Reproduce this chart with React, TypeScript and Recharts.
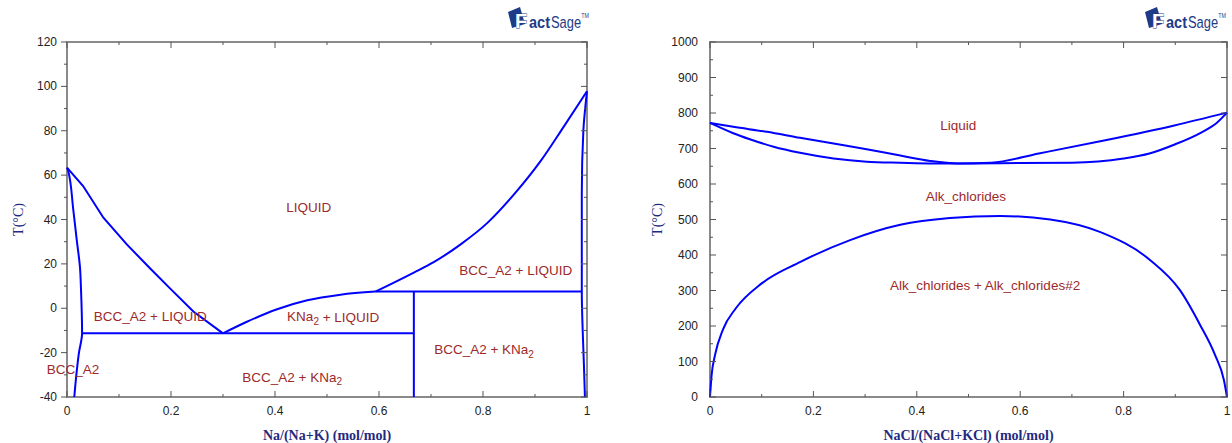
import React from "react";
import { ScatterChart, Scatter, XAxis, YAxis, ReferenceArea } from "recharts";

// ---------- Na-K diagram (left) ----------
const naXTicks = [0, 0.1, 0.2, 0.3, 0.4, 0.5, 0.6, 0.7, 0.8, 0.9, 1];
const naYTicks = [-40, -30, -20, -10, 0, 10, 20, 30, 40, 50, 60, 70, 80, 90, 100, 110, 120];

const liquidusK = [
  { x: 0, y: 63.4 }, { x: 0.031, y: 55.1 }, { x: 0.07, y: 40.8 }, { x: 0.115, y: 28.8 },
  { x: 0.16, y: 17.9 }, { x: 0.2, y: 8.5 }, { x: 0.243, y: -1.5 }, { x: 0.3, y: -11.3 },
];
const bccK = [
  { x: 0, y: 63.4 }, { x: 0.0025, y: 61.8 }, { x: 0.012, y: 44.6 }, { x: 0.0186, y: 31 },
  { x: 0.025, y: 18.3 }, { x: 0.027, y: 8 }, { x: 0.029, y: -11.3 }, { x: 0.023, y: -20 },
  { x: 0.018, y: -30 }, { x: 0.014, y: -40 },
];
const eutectic = [{ x: 0.029, y: -11.3 }, { x: 0.667, y: -11.3 }];
const kna2Line = [{ x: 0.667, y: 7.5 }, { x: 0.667, y: -40 }];
const peritectic = [{ x: 0.593, y: 7.5 }, { x: 0.99, y: 7.5 }];
const kna2Liquidus = [
  { x: 0.3, y: -11.3 }, { x: 0.346, y: -6.1 }, { x: 0.404, y: -0.45 }, { x: 0.462, y: 3.6 },
  { x: 0.526, y: 6.1 }, { x: 0.593, y: 7.5 },
];
const naLiquidus = [
  { x: 0.593, y: 7.5 }, { x: 0.667, y: 16.1 }, { x: 0.706, y: 20.9 }, { x: 0.757, y: 28.8 },
  { x: 0.809, y: 38.6 }, { x: 0.86, y: 51.4 }, { x: 0.911, y: 66.4 }, { x: 0.956, y: 82.1 },
  { x: 1, y: 97.8 },
];
const bccNa = [
  { x: 1, y: 97.8 }, { x: 0.993, y: 80 }, { x: 0.99, y: 52 }, { x: 0.99, y: 7.5 },
  { x: 0.9917, y: -10 }, { x: 0.994, y: -25 }, { x: 0.996, y: -40 },
];
const naLabels = [
  { x: 0.465, y: 45.6, text: "LIQUID" },
  { x: 0.16, y: -3.9, text: "BCC_A2 + LIQUID" },
  { x: 0.512, y: -3.9, text: "KNa", sub: "2", tail: " + LIQUID" },
  { x: 0.863, y: 16.8, text: "BCC_A2 + LIQUID" },
  { x: 0.802, y: -18.8, text: "BCC_A2 + KNa", sub: "2" },
  { x: 0.433, y: -31, text: "BCC_A2 + KNa", sub: "2" },
  { x: 0.0115, y: -27.8, text: "BCC_A2" },
];

// ---------- NaCl-KCl diagram (right) ----------
const clXTicks = [0, 0.1, 0.2, 0.3, 0.4, 0.5, 0.6, 0.7, 0.8, 0.9, 1];
const clYTicks = [0, 50, 100, 150, 200, 250, 300, 350, 400, 450, 500, 550, 600, 650, 700, 750, 800, 850, 900, 950, 1000];

const clLiquidus = [
  { x: 0, y: 772 }, { x: 0.045, y: 761 }, { x: 0.11, y: 747 }, { x: 0.174, y: 730 },
  { x: 0.239, y: 714 }, { x: 0.303, y: 698 }, { x: 0.368, y: 680 }, { x: 0.426, y: 665 },
  { x: 0.48, y: 658 }, { x: 0.544, y: 660 }, { x: 0.636, y: 686 }, { x: 0.767, y: 724 },
  { x: 0.898, y: 765 }, { x: 1, y: 801 },
];
const clSolidus = [
  { x: 0, y: 772 }, { x: 0.045, y: 743 }, { x: 0.077, y: 726 }, { x: 0.123, y: 705 },
  { x: 0.174, y: 688 }, { x: 0.239, y: 672 }, { x: 0.303, y: 663 }, { x: 0.368, y: 660 },
  { x: 0.432, y: 658 }, { x: 0.503, y: 658 }, { x: 0.6, y: 659 }, { x: 0.7, y: 660 },
  { x: 0.8, y: 672 }, { x: 0.85, y: 686 }, { x: 0.9, y: 712 }, { x: 0.95, y: 745 },
  { x: 0.98, y: 772 }, { x: 1, y: 801 },
];
const clGap = [
  { x: 0, y: 0 }, { x: 0.003, y: 60 }, { x: 0.01, y: 120 }, { x: 0.025, y: 190 },
  { x: 0.05, y: 250 }, { x: 0.1, y: 320 }, { x: 0.174, y: 380 }, { x: 0.271, y: 442 },
  { x: 0.368, y: 485 }, { x: 0.464, y: 504 }, { x: 0.561, y: 510 }, { x: 0.658, y: 500 },
  { x: 0.754, y: 465 }, { x: 0.851, y: 386 }, { x: 0.909, y: 301 }, { x: 0.948, y: 203 },
  { x: 0.977, y: 118 }, { x: 0.994, y: 48 }, { x: 1, y: 0 },
];
const clLabels = [
  { x: 0.48, y: 766, text: "Liquid" },
  { x: 0.495, y: 566, text: "Alk_chlorides" },
  { x: 0.532, y: 315, text: "Alk_chlorides + Alk_chlorides#2" },
];

const BLUE = "#0000ff";
const FRAME = "#8a8a8a";
const LABEL_RED = "#9c2a2a";
const NAVY = "#1f2a80";
const LOGO = "#1d3b86";
const SANS = "'Liberation Sans', Arial, sans-serif";
const SERIF = "'Liberation Serif', 'Times New Roman', serif";

const PLOT_H = 355;

function fmtX(v: number) {
  if (v === 0) return "0";
  if (v === 1) return "1";
  return v.toFixed(1);
}

function XTick(props: any) {
  const { x, y, payload } = props;
  const v = payload.value;
  const major = Math.round(v * 10) % 2 === 0;
  const len = major ? 6 : 3;
  return (
    <g>
      <line x1={x} y1={y} x2={x} y2={y - len} stroke="#555" />
      <line x1={x} y1={y - PLOT_H} x2={x} y2={y - PLOT_H + len} stroke="#555" />
      {major && (
        <text x={x} y={y + 14} textAnchor="middle" dominantBaseline="central" fontFamily={SANS} fontSize={12} fill="#222">
          {fmtX(v)}
        </text>
      )}
    </g>
  );
}

function YTick(props: any) {
  const { x, y, payload, plotW, step, outward, gap, rightMinor } = props;
  const v = payload.value;
  const major = v % step === 0;
  const len = major ? 6 : 3;
  const dir = outward ? -1 : 1;
  return (
    <g>
      <line x1={x} y1={y} x2={x + dir * len} y2={y} stroke="#555" />
      {(major || rightMinor) && <line x1={x + plotW} y1={y} x2={x + plotW - len} y2={y} stroke="#555" />}
      {major && (
        <text x={x - gap} y={y} textAnchor="end" dominantBaseline="central" fontFamily={SANS} fontSize={12} fill="#222">
          {v}
        </text>
      )}
    </g>
  );
}

function YTitle(props: any) {
  const vb = props.viewBox || {};
  const cy = (vb.y ?? 42) + (vb.height ?? PLOT_H) / 2;
  const cx = props.cx;
  return (
    <text x={cx} y={cy} transform={`rotate(-90 ${cx} ${cy})`} textAnchor="middle" dominantBaseline="central" fontFamily={SERIF} fontSize={14} fill={NAVY}>
      T(°C)
    </text>
  );
}

function PhaseLabel(props: any) {
  const { cx, cy, payload } = props;
  return (
    <text x={cx} y={cy} textAnchor="middle" dominantBaseline="central" fontFamily={SANS} fontSize={13.5} fill={LABEL_RED}>
      {payload.text}
      {payload.sub && <tspan dy={4} fontSize={10}>{payload.sub}</tspan>}
      {payload.tail && <tspan dy={-4}>{payload.tail}</tspan>}
    </text>
  );
}

const noDot = () => <g />;

function FactSageLogo({ left }: { left: number }) {
  return (
    <svg style={{ position: "absolute", left, top: 0 }} width={92} height={36}>
      <polygon points="5,12 17,7 22,24 9,28" fill={LOGO} />
      <text x={12} y={28} fontFamily={SANS} fontWeight="bold" fontSize={20} fill="#fff" stroke={LOGO} strokeWidth={0.8} paintOrder="stroke">
        F
      </text>
      <text x={26} y={28} fontFamily={SANS} fontWeight="bold" fontSize={16} fill={LOGO} textLength={21} lengthAdjust="spacingAndGlyphs">
        act
      </text>
      <text transform="translate(48,28) scale(0.76,1)" fontFamily={SANS} fontSize={17} fill={LOGO}>
        Sage
        <tspan dy={-10} fontSize={7}>TM</tspan>
      </text>
    </svg>
  );
}

type Curve = { data: { x: number; y: number }[]; kind: "linear" | "monotoneX" | "monotoneY" };

function NaKChart() {
  const series: Curve[] = [
    { data: liquidusK, kind: "linear" },
    { data: bccK, kind: "monotoneY" },
    { data: eutectic, kind: "linear" },
    { data: kna2Line, kind: "linear" },
    { data: peritectic, kind: "linear" },
    { data: kna2Liquidus, kind: "monotoneX" },
    { data: naLiquidus, kind: "monotoneX" },
    { data: bccNa, kind: "monotoneY" },
  ];
  return (
    <ScatterChart width={620} height={443} margin={{ top: 42, right: 33, bottom: 0, left: 0 }}>
      <XAxis
        type="number"
        dataKey="x"
        domain={[0, 1]}
        ticks={naXTicks}
        interval={0}
        height={46}
        axisLine={false}
        tickLine={false}
        tickSize={0}
        tickMargin={0}
        tick={<XTick />}
        label={{ value: "Na/(Na+K) (mol/mol)", position: "insideBottom", offset: 3, fill: NAVY, fontFamily: SERIF, fontWeight: "bold", fontSize: 14 }}
      />
      <YAxis
        type="number"
        dataKey="y"
        domain={[-40, 120]}
        ticks={naYTicks}
        interval={0}
        width={67}
        axisLine={false}
        tickLine={false}
        tickSize={0}
        tickMargin={0}
        tick={<YTick plotW={520} step={20} outward gap={10} rightMinor />}
        label={<YTitle cx={18} />}
      />
      <ReferenceArea x1={0} x2={1} y1={-40} y2={120} fill="none" stroke={FRAME} strokeWidth={2} />
      {series.map((s, i) => (
        <Scatter key={i} data={s.data} line={{ stroke: BLUE, strokeWidth: 2 }} lineJointType={s.kind} shape={noDot} isAnimationActive={false} />
      ))}
      <Scatter data={naLabels} shape={(p: any) => <PhaseLabel {...p} />} isAnimationActive={false} />
    </ScatterChart>
  );
}

function NaClKClChart() {
  const series: Curve[] = [
    { data: clLiquidus, kind: "monotoneX" },
    { data: clSolidus, kind: "monotoneX" },
    { data: clGap, kind: "monotoneX" },
  ];
  return (
    <ScatterChart width={612} height={443} margin={{ top: 42, right: 5, bottom: 0, left: 0 }}>
      <XAxis
        type="number"
        dataKey="x"
        domain={[0, 1]}
        ticks={clXTicks}
        interval={0}
        height={46}
        axisLine={false}
        tickLine={false}
        tickSize={0}
        tickMargin={0}
        tick={<XTick />}
        label={{ value: "NaCl/(NaCl+KCl) (mol/mol)", position: "insideBottom", offset: 3, fill: NAVY, fontFamily: SERIF, fontWeight: "bold", fontSize: 14 }}
      />
      <YAxis
        type="number"
        dataKey="y"
        domain={[0, 1000]}
        ticks={clYTicks}
        interval={0}
        width={90}
        axisLine={false}
        tickLine={false}
        tickSize={0}
        tickMargin={0}
        tick={<YTick plotW={517} step={100} gap={12} rightMinor={false} />}
        label={<YTitle cx={37} />}
      />
      <ReferenceArea x1={0} x2={1} y1={0} y2={1000} fill="none" stroke={FRAME} strokeWidth={2} />
      {series.map((s, i) => (
        <Scatter key={i} data={s.data} line={{ stroke: BLUE, strokeWidth: 2 }} lineJointType={s.kind} shape={noDot} isAnimationActive={false} />
      ))}
      <Scatter data={clLabels} shape={(p: any) => <PhaseLabel {...p} />} isAnimationActive={false} />
    </ScatterChart>
  );
}

export default function App() {
  return (
    <div style={{ position: "absolute", left: 0, top: 0, width: 1232, height: 443, background: "#fff" }}>
      <div style={{ position: "absolute", left: 0, top: 0 }}>
        <NaKChart />
      </div>
      <div style={{ position: "absolute", left: 620, top: 0 }}>
        <NaClKClChart />
      </div>
      <FactSageLogo left={503} />
      <FactSageLogo left={1140} />
    </div>
  );
}
